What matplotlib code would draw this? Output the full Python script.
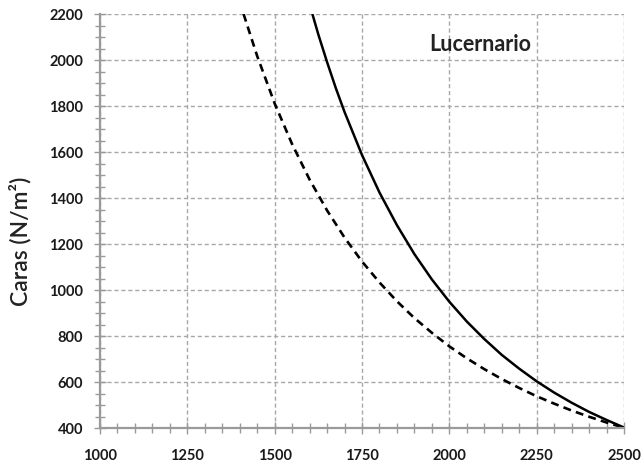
import matplotlib
matplotlib.use("Agg")
import matplotlib.pyplot as plt
from matplotlib.ticker import MultipleLocator

# values
solid_x = [1608, 1625, 1650, 1675, 1700, 1750, 1800, 1850, 1900, 1950, 2000,
           2050, 2100, 2150, 2200, 2250, 2300, 2350, 2400, 2450, 2500]
solid_y = [2200, 2111, 1991, 1878, 1774, 1587, 1424, 1282, 1156, 1046, 949,
           863, 787, 718, 658, 603, 554, 510, 470, 435, 402]

dashed_x = [1411, 1450, 1500, 1550, 1600, 1650, 1700, 1750, 1800, 1850, 1900,
            1950, 2000, 2050, 2100, 2150, 2200, 2250, 2300, 2350, 2400, 2450,
            2500]
dashed_y = [2200, 2017, 1811, 1634, 1480, 1346, 1228, 1124, 1033, 951, 878,
            814, 755, 703, 656, 613, 574, 538, 506, 476, 449, 424, 401]

x_ticks = [1000, 1250, 1500, 1750, 2000, 2250, 2500]
y_ticks = [400, 600, 800, 1000, 1200, 1400, 1600, 1800, 2000, 2200]

plt.rcParams['font.family'] = ['Lato', 'DejaVu Sans']

fig = plt.figure(figsize=(6.42, 4.66), dpi=100)
ax = fig.add_axes([100 / 642, 1 - 428 / 466, 524 / 642, 414 / 466])

ax.plot(solid_x, solid_y, color='black', lw=1.8, solid_capstyle='butt')
ax.plot(dashed_x, dashed_y, color='black', lw=1.9, linestyle=(0, (3.0, 2.0)))

ax.set_xlim(1000, 2500)
ax.set_ylim(400, 2200)
ax.set_xticks(x_ticks)
ax.set_yticks(y_ticks)
ax.xaxis.set_minor_locator(MultipleLocator(50))
ax.yaxis.set_minor_locator(MultipleLocator(50))

grey = '#9a9a9a'
ax.grid(True, which='major', color='#a8a8a8', lw=1.0, linestyle=(0, (3, 2)))
ax.set_axisbelow(True)
for side in ['top', 'right']:
    ax.spines[side].set_visible(False)
for side in ['left', 'bottom']:
    ax.spines[side].set_color(grey)
    ax.spines[side].set_linewidth(1.6)

ax.tick_params(which='both', direction='inout', color=grey, width=1.0)
ax.tick_params(which='major', length=8)
ax.tick_params(which='minor', length=7)
ax.tick_params(axis='y', which='major', pad=8)
ax.tick_params(axis='x', which='major', pad=11)
for lab in ax.get_xticklabels() + ax.get_yticklabels():
    lab.set_fontweight('bold')
    lab.set_fontsize(10.5)
    lab.set_color('#1a1a1a')

ax.set_ylabel('Caras (N/m²)', fontsize=16.5, fontweight='semibold',
              color='#222222')
ax.yaxis.set_label_coords(-0.13, 0.452)
ax.text(0.725, 0.9275, 'Lucernario', transform=ax.transAxes, fontsize=15.5,
        fontweight='bold', color='#222222', ha='center', va='center')

fig.savefig('out.png', dpi=100)
